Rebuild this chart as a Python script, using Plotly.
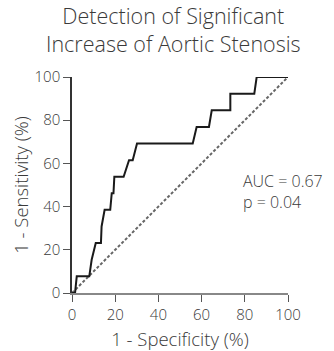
import plotly.graph_objects as go

fpr = [0, 1.4, 2.2, 8.0, 9.1, 11.0, 13.4, 13.7, 15.1, 17.7, 18.4, 19.2, 19.6, 23.9,
       26.4, 28.1, 30.1, 55.9, 57.7, 63.4, 64.7, 73.3, 73.3, 84.4, 85.5, 100]
tpr = [0, 0, 7.7, 7.7, 15.4, 23.1, 23.1, 30.8, 38.5, 38.5, 46.2, 46.2, 53.8, 53.8,
       61.5, 61.5, 69.2, 69.2, 76.9, 76.9, 84.6, 84.6, 92.3, 92.3, 100, 100]
diag_x = [0, 100]
diag_y = [0, 100]
tick_vals = [0, 20, 40, 60, 80, 100]
title_text = "Detection of Significant<br>Increase of Aortic Stenosis"
auc_text = "AUC = 0.67<br>p = 0.04"
x_title = "1 - Specificity (%)"
y_title = "1 - Sensitivity (%)"

font_family = "Open Sans"
grey = "#3a3a3a"

fig = go.Figure()
fig.add_trace(go.Scatter(x=diag_x, y=diag_y, mode="lines",
                         line=dict(color="#666666", width=2, dash="3px,2px"),
                         hoverinfo="skip", showlegend=False))
fig.add_trace(go.Scatter(x=fpr, y=tpr, mode="lines",
                         line=dict(color="#1a1a1a", width=2),
                         showlegend=False))

fig.add_annotation(x=0.782, y=0.468, xref="paper", yref="paper", text=auc_text,
                   showarrow=False, xanchor="left", yanchor="middle", align="left",
                   font=dict(family=font_family, size=16, color=grey, weight=300))

fig.add_annotation(x=0.468, y=1.222, xref="paper", yref="paper", text=title_text,
                   showarrow=False, xanchor="center", yanchor="middle", align="center",
                   font=dict(family=font_family, size=21.5, color=grey, weight=300))

fig.update_layout(
    width=334, height=351,
    margin=dict(l=72, r=46, t=77, b=58),
    paper_bgcolor="white", plot_bgcolor="white",
    font=dict(family=font_family, color=grey),
)
fig.update_xaxes(range=[0, 100], tickvals=tick_vals, ticks="outside", ticklen=7,
                 tickcolor="#555555", showline=True, linecolor="#888888", linewidth=1.5,
                 showgrid=False, zeroline=False, automargin=False,
                 tickfont=dict(family=font_family, size=15, color=grey, weight=300),
                 title=dict(text=x_title, standoff=10,
                            font=dict(family=font_family, size=18.5, color=grey, weight=300)))
fig.update_yaxes(range=[0, 100], tickvals=tick_vals, ticks="outside", ticklen=7,
                 tickcolor="#555555", showline=True, linecolor="#333333", linewidth=1.5,
                 showgrid=False, zeroline=False, automargin=False,
                 tickfont=dict(family=font_family, size=15, color=grey, weight=300),
                 title=dict(text=y_title, standoff=1,
                            font=dict(family=font_family, size=18.5, color=grey, weight=300)))

fig.write_html("out.html", config={"displayModeBar": False},
               post_script="document.body.style.margin='0px';")
